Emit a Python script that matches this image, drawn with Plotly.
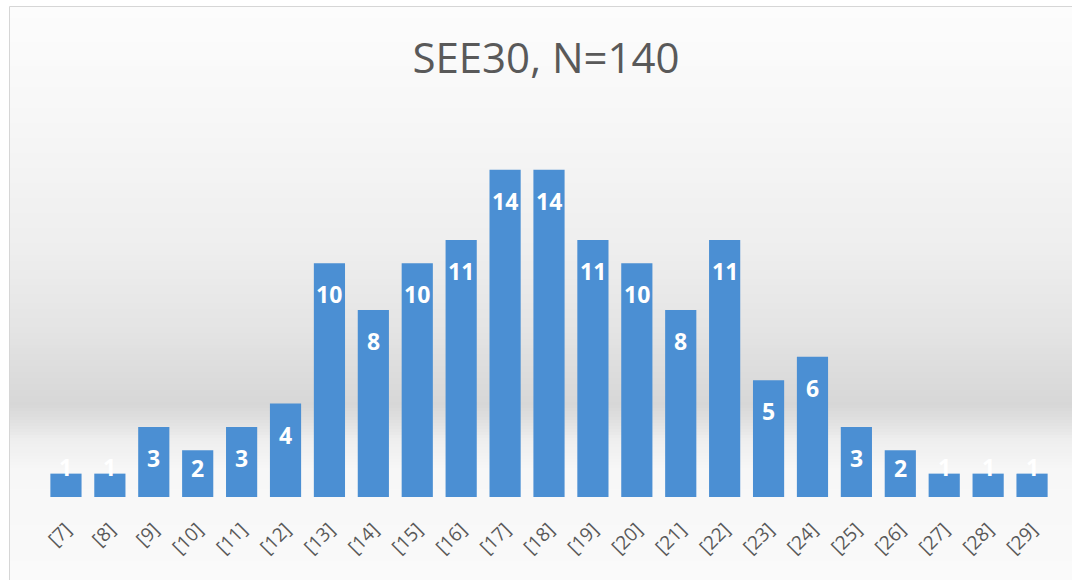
import plotly.graph_objects as go

categories = ["[7]", "[8]", "[9]", "[10]", "[11]", "[12]", "[13]", "[14]", "[15]", "[16]",
              "[17]", "[18]", "[19]", "[20]", "[21]", "[22]", "[23]", "[24]", "[25]", "[26]",
              "[27]", "[28]", "[29]"]
counts = [1, 1, 3, 2, 3, 4, 10, 8, 10, 11, 14, 14, 11, 10, 8, 11, 5, 6, 3, 2, 1, 1, 1]
title_text = "SEE30, N=140"

W, H = 1072, 580
ML, MR, MT, MB = 44, 18, 123, 83
PW, PH = W - ML - MR, H - MT - MB

def px_to_paper_x(px):
    return (px - ML) / PW

def px_to_paper_y(py):
    return (H - MB - py) / PH

# background gradient stops (pixel y, gray level)
stops = [(6, 252), (100, 248), (250, 238), (330, 228), (380, 219), (405, 215),
         (420, 224), (440, 238), (470, 247), (580, 250)]

def gray_at(y):
    for (y0, g0), (y1, g1) in zip(stops[:-1], stops[1:]):
        if y0 <= y <= y1:
            t = (y - y0) / (y1 - y0)
            return g0 + (g1 - g0) * t
    return stops[-1][1]

shapes = []
step = 3
y = 6
while y < H:
    g = int(round(gray_at(y + step / 2)))
    shapes.append(dict(type="rect", xref="paper", yref="paper", layer="below",
                       x0=px_to_paper_x(9), x1=px_to_paper_x(W + 2),
                       y0=px_to_paper_y(y), y1=px_to_paper_y(min(y + step + 0.5, H + 2)),
                       line=dict(width=0), fillcolor=f"rgb({g},{g},{g})"))
    y += step
shapes.append(dict(type="rect", xref="paper", yref="paper", layer="below",
                   x0=px_to_paper_x(9.5), x1=px_to_paper_x(W + 5),
                   y0=px_to_paper_y(6.5), y1=px_to_paper_y(H + 5),
                   line=dict(width=1, color="#d6d6d6"), fillcolor="rgba(0,0,0,0)"))

fig = go.Figure()
fig.add_trace(go.Bar(x=categories, y=counts, marker=dict(color="#4b8fd3", line=dict(width=0)),
                     hoverinfo="x+y"))

annotations = []
for c, v in zip(categories, counts):
    if v >= 3:
        shift = -31
    elif v == 2:
        shift = -18
    else:
        shift = 7
    annotations.append(dict(x=c, y=v, xref="x", yref="y", text=str(v), showarrow=False,
                            yanchor="middle", yshift=shift,
                            font=dict(family="Open Sans", size=23, color="white", weight="bold")))

fig.update_layout(
    width=W, height=H,
    margin=dict(l=ML, r=MR, t=MT, b=MB, autoexpand=False),
    paper_bgcolor="white",
    plot_bgcolor="rgba(0,0,0,0)",
    title=dict(text=title_text, x=546 / W, xanchor="center",
               y=1 - 58 / H, yanchor="middle",
               font=dict(family="Open Sans", size=42, color="#595959")),
    bargap=0.29,
    showlegend=False,
    shapes=shapes,
    annotations=annotations,
    xaxis=dict(tickangle=-45, showgrid=False, showline=False, zeroline=False,
               ticks="outside", ticklen=13, tickcolor="rgba(0,0,0,0)",
               tickfont=dict(family="Open Sans", size=19, color="#595959")),
    yaxis=dict(range=[0, 16], visible=False, showgrid=False, zeroline=False),
)

fig.write_html("out.html", config={"displayModeBar": False},
               post_script="document.body.style.margin='0';document.body.style.overflow='hidden';")
